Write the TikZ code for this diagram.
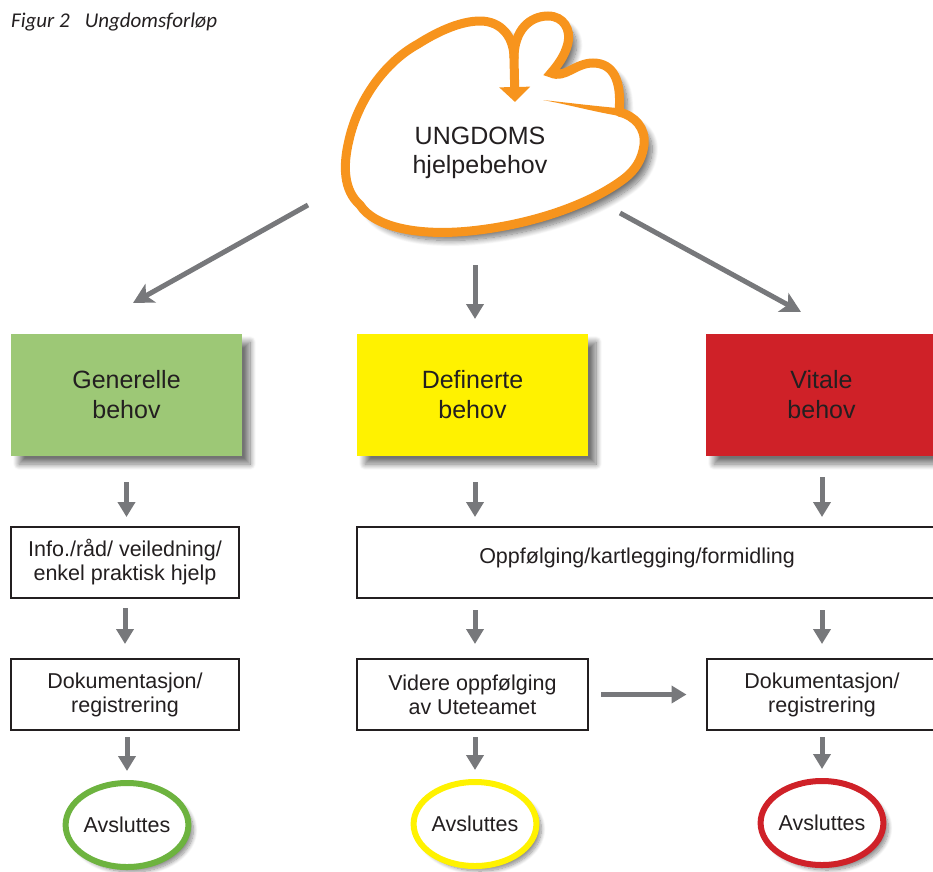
\documentclass[tikz,border=0pt]{standalone}
\usepackage{fontspec}
\setmainfont{Liberation Sans}
\newfontfamily\titlefont{Carlito}
\usetikzlibrary{arrows.meta,shapes.geometric,shadows.blur,calc}
\definecolor{txt}{HTML}{231F20}
\definecolor{arrowgray}{HTML}{77787B}
\definecolor{orangeblob}{HTML}{F7941D}
\definecolor{boxgreen}{HTML}{9DC876}
\definecolor{ringgreen}{HTML}{6DB33F}
\definecolor{boxyellow}{HTML}{FFF200}
\definecolor{boxred}{HTML}{CF2128}
\tikzset{
  boxshadow/.style={blur shadow={shadow xshift=8pt, shadow yshift=-8pt, shadow blur radius=6pt, shadow blur steps=12, shadow opacity=55}},
  smallshadow/.style={blur shadow={shadow xshift=5pt, shadow yshift=-5pt, shadow blur radius=4pt, shadow blur steps=10, shadow opacity=45}},
  colbox/.style={minimum width=231pt, minimum height=122pt, inner sep=0pt, outer sep=0pt, align=center,
    font=\fontsize{25}{30}\selectfont, text=txt, boxshadow},
  wbox/.style={draw=txt, line width=2pt, fill=white, minimum width=228pt, minimum height=71pt, inner sep=0pt,
    align=center, font=\fontsize{21.5}{24}\selectfont, text=txt},
  endell/.style={ellipse, line width=6pt, fill=white, minimum width=118pt, minimum height=84pt, inner sep=0pt,
    font=\fontsize{21.5}{24}\selectfont, text=txt, smallshadow},
  flow/.style={draw=arrowgray, line width=5pt, -{Triangle[width=17pt,length=15pt]}},
  flowd/.style={draw=arrowgray, line width=5pt, -{Stealth[width=21pt,length=20pt,inset=5pt]}},
  blobline/.style={draw=orangeblob, line width=9pt},
}
\begin{document}
\begin{tikzpicture}[x=1pt,y=-1pt]
\useasboundingbox (0,0) rectangle (933,871);

% title
\node[anchor=base west, inner sep=0pt, font=\titlefont\itshape\fontsize{21}{24}\selectfont, text=txt] (title)
  at (11,27) {Figur 2\hspace{15pt}Ungdomsforløp};

% blob
\path[fill=white, boxshadow]
  (619,112) .. controls (635,116) and (646,128) .. (644,145)
  .. controls (642,160) and (635,170) .. (625,178)
  .. controls (590,205) and (530,225) .. (470,231)
  .. controls (420,236) and (375,228) .. (360,205)
  .. controls (343,190) and (343,165) .. (349,140)
  .. controls (358,100) and (385,62) .. (418,44)
  .. controls (440,30) and (462,21) .. (480,21)
  .. controls (502,21) and (514,38) .. (514,58)
  .. controls (514,30) and (530,16) .. (548,16)
  .. controls (564,16) and (571,30) .. (568,43)
  .. controls (565,56) and (557,66) .. (551,73)
  .. controls (565,79) and (575,63) .. (593,63)
  .. controls (613,63) and (622,80) .. (619,112) -- cycle;
\draw[blobline, -{Triangle[width=30pt,length=15pt]}]
  (619,112) .. controls (635,116) and (646,128) .. (644,145)
  .. controls (642,160) and (635,170) .. (625,178)
  .. controls (590,205) and (530,225) .. (470,231)
  .. controls (420,236) and (375,228) .. (360,205)
  .. controls (343,190) and (343,165) .. (349,140)
  .. controls (358,100) and (385,62) .. (418,44)
  .. controls (440,30) and (462,21) .. (480,21)
  .. controls (502,21) and (514,38) .. (514,58)
  -- (515,102);
\draw[blobline, line cap=round]
  (514,58) .. controls (514,30) and (530,16) .. (548,16)
  .. controls (564,16) and (571,30) .. (568,43)
  .. controls (565,56) and (557,66) .. (551,73)
  .. controls (565,79) and (575,63) .. (593,63)
  .. controls (613,63) and (622,80) .. (619,112);
\fill[orangeblob] (543,100) .. controls (570,103) and (595,106) .. (617,108) -- (620,116)
  .. controls (595,112) and (570,105) .. cycle;
\node[font=\fontsize{25}{29}\selectfont, align=center, text=txt] (blob) at (480,153) {UNGDOMS\\hjelpebehov};

% coloured boxes
\node[colbox, fill=boxgreen] (green) at (126.5,395) {Generelle\\behov};
\node[colbox, fill=boxyellow] (yellow) at (472.5,395) {Definerte\\behov};
\node[colbox, fill=boxred] (red) at (821.5,395) {Vitale\\behov};

% blob arrows
\coordinate (bl) at (308,205);
\coordinate (blend) at (133,303);
\coordinate (bm) at (475,265);
\coordinate (bmend) at (475,319);
\coordinate (br) at (620,213);
\coordinate (brend) at (801,312);
\draw[flowd] (bl) -- (blend);
\draw[flow] (bm) -- (bmend);
\draw[flowd] (br) -- (brend);

% white boxes
\node[wbox] (info) at (125,562.5) {Info./råd/ veiledning/\\enkel praktisk hjelp};
\node[wbox, minimum width=590pt] (opp) at (652,562.5) {};
\node[font=\fontsize{21.5}{24}\selectfont, text=txt] (opptext) at (637,558) {Oppfølging/kartlegging/formidling};
\node[wbox] (dok1) at (125,694.5) {Dokumentasjon/\\registrering};
\node[wbox, minimum width=231pt] (videre) at (472.5,694.5) {Videre oppfølging\\av Uteteamet};
\node[wbox, minimum width=231pt] (dok2) at (822,694.5) {Dokumentasjon/\\registrering};

% end ellipses
\node[endell, draw=ringgreen] (end1) at (127,825) {Avsluttes};
\node[endell, draw=boxyellow] (end2) at (475,824) {Avsluttes};
\node[endell, draw=boxred] (end3) at (822,823) {Avsluttes};

% vertical arrows
\draw[flow, shorten <=26pt, shorten >=9pt] (green.south) -- (green.south |- info.north);
\draw[flow, shorten <=26pt, shorten >=9pt] (475,456) -- (475,526);
\draw[flow, shorten <=21pt, shorten >=9pt] (822,456) -- (822,526);
\draw[flow, shorten <=9pt, shorten >=14pt] (info.south) -- (info.south |- dok1.north);
\draw[flow, shorten <=11pt, shorten >=13pt] (475,599) -- (475,657);
\draw[flow, shorten <=11pt, shorten >=13pt] (822,599) -- (822,657);
\draw[flow, shorten <=6pt, shorten >=9pt] (dok1.south -| end1) -- (end1.north);
\draw[flow, shorten <=6pt, shorten >=9pt] (videre.south -| end2) -- (end2.north);
\draw[flow, shorten <=6pt, shorten >=9pt] (dok2.south) -- (end3.north);
\draw[flow, shorten <=12pt, shorten >=19pt] (videre.east) -- (dok2.west);
\end{tikzpicture}
\end{document}
